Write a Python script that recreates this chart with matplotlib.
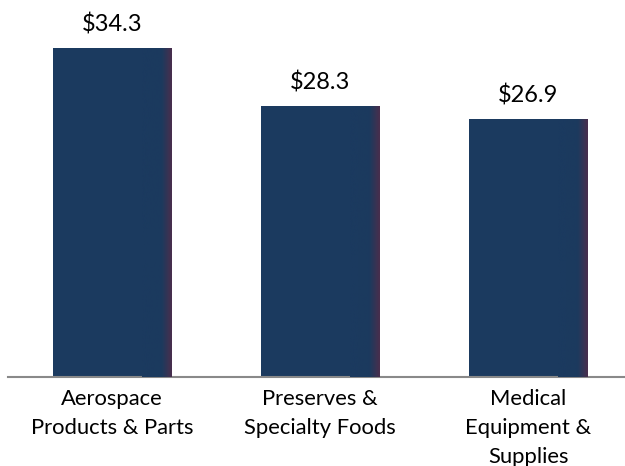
import numpy as np
import matplotlib
matplotlib.use('Agg')
import matplotlib.pyplot as plt
from matplotlib.colors import LinearSegmentedColormap

# data
categories = ['Aerospace\nProducts & Parts', 'Preserves &\nSpecialty Foods', 'Medical\nEquipment &\nSupplies']
values = [34.3, 28.3, 26.9]
labels = ['$34.3', '$28.3', '$26.9']

plt.rcParams['font.family'] = ['Lato', 'DejaVu Sans']

fig = plt.figure(figsize=(6.25, 4.66), dpi=100)
ax = fig.add_axes([0.013, 0.191, 0.985, 0.809])

x = np.arange(len(values))
bw = 0.567
bars = ax.bar(x, values, width=bw, color='#1b3a5f', zorder=2)

# dark right-edge shading on each bar
shade = LinearSegmentedColormap.from_list('shade', ['#1b3a5f', '#1b3a5f', '#1c3a5e', '#4a2e4c'])
grad = np.linspace(0, 1, 256).reshape(1, -1)
for b in bars:
    x0 = b.get_x()
    x1 = x0 + b.get_width()
    im = ax.imshow(grad, cmap=shade, aspect='auto', extent=[x1 - 0.14, x1, 0, b.get_height()],
                   zorder=3, interpolation='bicubic')
    im.set_clip_path(b)

for xi, v, lab in zip(x, values, labels):
    ax.text(xi, v + 1.3, lab, ha='center', va='bottom', fontsize=17, color='#000000')

ax.set_xlim(-0.5, 2.46)
ax.set_ylim(0, 39.3)
ax.set_xticks(x)
ax.set_xticklabels(categories, fontsize=15.8, linespacing=1.55, va='top')
ax.tick_params(axis='x', length=0, pad=9)
ax.set_yticks([])
for s in ['top', 'right', 'left']:
    ax.spines[s].set_visible(False)
ax.spines['bottom'].set_color('#898989')
ax.spines['bottom'].set_linewidth(1.5)

fig.savefig('out.png', dpi=100)
